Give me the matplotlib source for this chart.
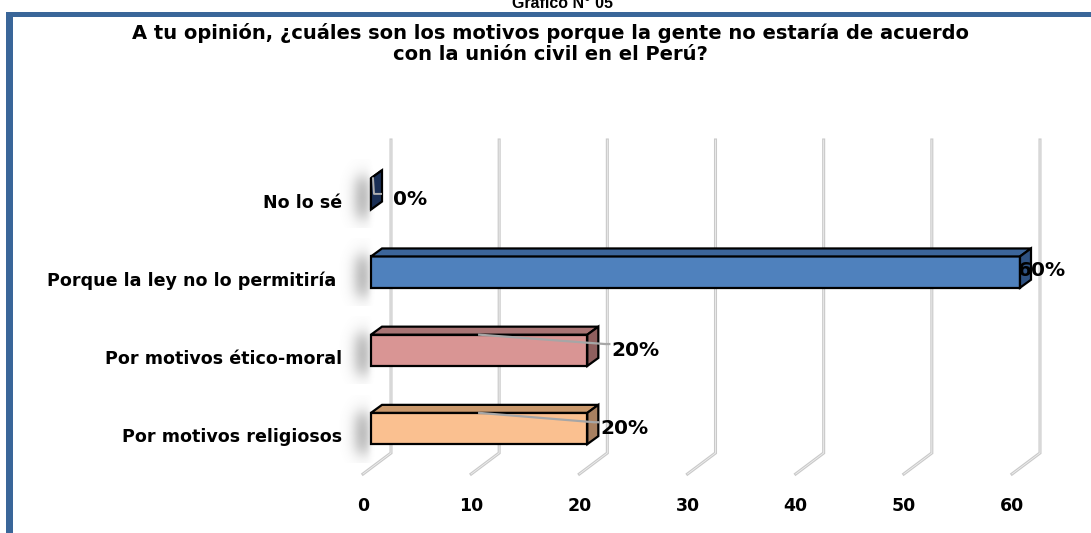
import numpy as np
import matplotlib
matplotlib.use("Agg")
import matplotlib.pyplot as plt
from matplotlib.patches import Rectangle, Polygon

# data, bottom to top as drawn
categories = ["Por motivos religiosos", "Por motivos ético-moral",
              "Porque la ley no lo permitiría ", "No lo sé"]
values = [20, 20, 60, 0]
labels = ["20%", "20%", "60%", "0%"]
ticks = [0, 10, 20, 30, 40, 50, 60]

front_cols = ["#FAC090", "#D99594", "#4F81BD", "#1F3864"]
top_cols = ["#C9986C", "#A97474", "#3C659A", "#1F3864"]
side_cols = ["#A88060", "#8F5F5E", "#2F5282", "#1A2F55"]
# label offsets in pixels from the bar end / bar centre (dy positive = down)
lab_dx = [13, 24, -2, 22]
lab_dy = [0, 0, -2, 6]

W, H = 1091, 533
fig = plt.figure(figsize=(W / 100, H / 100), dpi=100)
fig.patch.set_facecolor("white")

# axes placed so that 0 -> 371px, 60 -> 1020px, categories 78px apart
x0, x1 = 371, 1020
yc0, ystep = 428.5, 78.2
ybot = yc0 + ystep * 0.5
ytop = yc0 - ystep * 3.5
ax = fig.add_axes([x0 / W, (H - ybot) / H, (x1 - x0) / W, (ybot - ytop) / H])
ax.set_xlim(0, 60)
ax.set_ylim(-0.5, 3.5)
ax.axis("off")

pxx = 60 / (x1 - x0)   # data units per pixel, x
pxy = 1 / ystep        # data units per pixel, y

# back wall gridlines with the floor edge
gdx, gtop, gbot = 20 * pxx, (ybot - 140) * pxy - 0.5, (ybot - 453) * pxy - 0.5
fdx, fy = -8 * pxx, (ybot - 474) * pxy - 0.5
for t in ticks:
    ax.plot([t + gdx, t + gdx, t + fdx], [gtop, gbot, fy], color="#C9C9C9",
            lw=2.2, clip_on=False, zorder=1, solid_joinstyle="miter")
    ax.plot([t + gdx, t + gdx, t + fdx], [gtop, gbot, fy], color="#EFEFEF",
            lw=0.6, clip_on=False, zorder=1, solid_joinstyle="miter")

h = 0.40
ddx, ddy = 11 * pxx, 8 * pxy
ypos = np.arange(len(categories))

# soft blurred shadow at the left of each bar
gx = np.linspace(-40, 4, 80)
gy = np.linspace(-34, 34, 90)
GX, GY = np.meshgrid(gx, gy)
shx = np.exp(-((GX + 8) / 11.0) ** 2) * (1 / (1 + np.exp(GX / 1.5)))
shy = 1 / (1 + np.exp((np.abs(GY - 4) - 20) / 5.0))
shadow = np.zeros(GX.shape + (4,))
shadow[..., :3] = 0.5
shadow[..., 3] = 0.5 * shx * shy
for y in ypos:
    ax.imshow(shadow, extent=[gx[0] * pxx, gx[-1] * pxx,
                              y - 34 * pxy, y + 34 * pxy],
              origin="upper", aspect="auto", zorder=1, clip_on=False,
              interpolation="bilinear")
ax.set_xlim(0, 60)
ax.set_ylim(-0.5, 3.5)

ax.barh(ypos, values, height=h, color=front_cols, edgecolor="black",
        linewidth=1.6, zorder=3, clip_on=False)
for y, v, tc, sc in zip(ypos, values, top_cols, side_cols):
    yt = y + h / 2
    top = Polygon([(0, yt), (v, yt), (v + ddx, yt + ddy), (ddx, yt + ddy)],
                  closed=True, fc=tc, ec="black", lw=1.6, zorder=3,
                  clip_on=False, joinstyle="miter")
    side = Polygon([(v, y - h / 2), (v, yt), (v + ddx, yt + ddy),
                    (v + ddx, y - h / 2 + ddy)], closed=True, fc=sc,
                   ec="black", lw=1.6, zorder=3, clip_on=False,
                   joinstyle="miter")
    ax.add_patch(top)
    ax.add_patch(side)

# leader lines for the moved labels
for y, v, dx in zip(ypos, values, lab_dx):
    if v == 20:
        ax.plot([v / 2, v + (dx - 6) * pxx, v + (dx - 2) * pxx],
                [y + h / 2, y + 0.08, y + 0.08], color="#A6A6A6", lw=1.6,
                zorder=4, clip_on=False)
    elif v == 0:
        ax.plot([v + 2 * pxx, v + 3 * pxx, v + 10 * pxx],
                [y + 0.2, y, y], color="#B0B0B0", lw=1.4,
                zorder=4, clip_on=False)

for y, v, lab, dx, dy in zip(ypos, values, labels, lab_dx, lab_dy):
    ax.annotate(lab, (v, y), xytext=(dx, -dy), textcoords="offset pixels",
                ha="left", va="center", fontsize=14.5, fontweight="bold",
                zorder=5, annotation_clip=False)

# category labels
for y, c in zip(ypos, categories):
    ax.annotate(c, (0, y), xytext=(-29, -9), textcoords="offset pixels",
                ha="right", va="center", fontsize=12.6, fontweight="bold",
                annotation_clip=False)

# value axis labels
for t in ticks:
    ax.annotate(str(t), (t, -0.5), xytext=(-8, -38), textcoords="offset pixels",
                ha="center", va="center", fontsize=12.5, fontweight="bold",
                annotation_clip=False)

# titles
fig.text(563 / W, 1 - 8 / H, "Gráfico N° 05", ha="center", va="baseline",
         fontsize=11.5, fontweight="bold", family="Liberation Sans")
fig.text(550 / W, 1 - 33 / H,
         "A tu opinión, ¿cuáles son los motivos porque la gente no estaría de acuerdo",
         ha="center", va="center", fontsize=14, fontweight="bold")
fig.text(550 / W, 1 - 55 / H, "con la unión civil en el Perú?",
         ha="center", va="center", fontsize=14, fontweight="bold")

# blue frame, running off the right and bottom edges
frame = "#3A6699"
fig.add_artist(Rectangle((6 / W, 0), 7 / W, 1 - 12 / H, transform=fig.transFigure,
                         color=frame, lw=0))
fig.add_artist(Rectangle((6 / W, 1 - 17 / H), 1, 5 / H, transform=fig.transFigure,
                         color=frame, lw=0))

fig.savefig("out.png", dpi=100)
